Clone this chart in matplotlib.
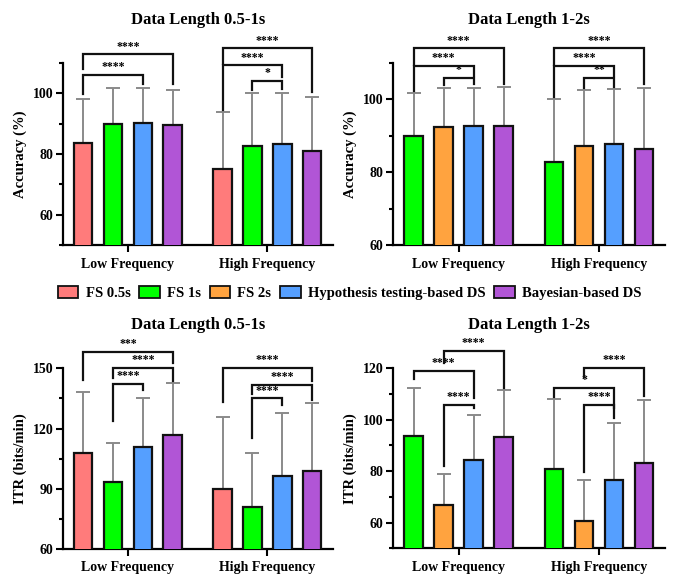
import matplotlib
matplotlib.use("Agg")
import matplotlib.pyplot as plt
import numpy as np
from matplotlib.patches import Patch
from matplotlib.ticker import MultipleLocator

plt.rcParams['font.family'] = ['Liberation Serif', 'DejaVu Serif']
plt.rcParams['font.weight'] = 'bold'

groups = ["Low Frequency", "High Frequency"]
series_names = ["FS 0.5s", "FS 1s", "FS 2s", "Hypothesis testing-based DS", "Bayesian-based DS"]
colors = {"FS 0.5s": "#FF7B7B", "FS 1s": "#00FF00", "FS 2s": "#FFA33F",
          "Hypothesis testing-based DS": "#559FFF", "Bayesian-based DS": "#B155D6"}

# Panel A: Accuracy, data length 0.5-1s
accA_series = ["FS 0.5s", "FS 1s", "Hypothesis testing-based DS", "Bayesian-based DS"]
accA_mean = [[83.7, 90.0, 90.3, 89.4], [75.1, 82.5, 83.4, 81.1]]
accA_err = [[98.1, 101.7, 101.7, 101.2], [93.7, 100.1, 100.1, 98.7]]
# Panel B: Accuracy, data length 1-2s
accB_series = ["FS 1s", "FS 2s", "Hypothesis testing-based DS", "Bayesian-based DS"]
accB_mean = [[90.0, 92.4, 92.6, 92.8], [82.8, 87.3, 87.8, 86.5]]
accB_err = [[101.7, 103.2, 103.2, 103.5], [100.2, 102.7, 102.9, 103.2]]
# Panel C: ITR, data length 0.5-1s
itrC_series = ["FS 0.5s", "FS 1s", "Hypothesis testing-based DS", "Bayesian-based DS"]
itrC_mean = [[107.6, 93.3, 110.9, 116.7], [89.7, 80.9, 96.3, 98.8]]
itrC_err = [[138.4, 112.7, 135.4, 142.5], [125.5, 108.0, 127.9, 132.6]]
# Panel D: ITR, data length 1-2s
itrD_series = ["FS 1s", "FS 2s", "Hypothesis testing-based DS", "Bayesian-based DS"]
itrD_mean = [[93.6, 66.7, 84.2, 93.4], [80.8, 60.5, 76.6, 83.0]]
itrD_err = [[112.3, 78.9, 101.9, 111.5], [108.0, 76.6, 98.6, 107.5]]

# significance brackets: (group, bar_i, bar_j, label, top, left_end, right_end)
brA = [(0, 0, 2, "****", 106.1, 99.8, 103.1), (0, 0, 3, "****", 112.8, 108.0, 103.1),
       (1, 0, 3, "****", 114.8, 109.5, 100.5), (1, 0, 2, "****", 109.2, 94.5, 105.5),
       (1, 1, 2, "*", 104.2, 101.0, 101.5)]
brB = [(0, 0, 3, "****", 114.0, 109.5, 104.2), (0, 0, 2, "****", 109.2, 102.2, 106.5),
       (0, 1, 2, "*", 105.8, 104.0, 104.2),
       (1, 0, 3, "****", 114.0, 109.5, 104.2), (1, 0, 2, "****", 109.2, 100.7, 106.5),
       (1, 1, 2, "**", 105.8, 103.2, 103.5)]
brC = [(0, 0, 3, "***", 158.3, 144.2, 152.5), (0, 1, 3, "****", 150.0, 145.0, 143.5),
       (0, 1, 2, "****", 142.2, 123.7, 139.0),
       (1, 0, 3, "****", 150.0, 133.0, 143.5), (1, 1, 3, "****", 141.7, 137.0, 134.0),
       (1, 1, 2, "****", 135.0, 115.5, 131.5)]
brD = [(0, 0, 2, "****", 119.1, 115.8, 108.5), (0, 1, 3, "****", 126.8, 122.2, 112.3),
       (0, 1, 2, "****", 105.9, 82.1, 104.5),
       (1, 0, 2, "*", 112.3, 109.0, 104.5), (1, 1, 3, "****", 120.0, 116.8, 109.3),
       (1, 1, 2, "****", 105.9, 79.6, 100.5)]

BAR_STEP = 0.214
BAR_W = 0.132

fig = plt.figure(figsize=(6.79, 5.81), dpi=100)

def panel(rect, title, ylabel, series, means, errs, brackets, ylim, major, minor):
    ax = fig.add_axes(rect)
    for s_i, s in enumerate(series):
        xs = np.arange(len(groups)) + (s_i - 1.5) * BAR_STEP
        vals = [means[g][s_i] for g in range(len(groups))]
        tops = [errs[g][s_i] for g in range(len(groups))]
        ax.bar(xs, vals, width=BAR_W, color=colors[s], edgecolor="#111111",
               linewidth=1.6, zorder=3)
        yerr_up = np.array(tops) - np.array(vals)
        ax.errorbar(xs, vals, yerr=[np.zeros_like(yerr_up), yerr_up], fmt="none",
                    ecolor="#8a8a8a", elinewidth=1.4, capsize=5, capthick=1.4, zorder=2)
    for (g, i, j, lab, top, yl, yr) in brackets:
        x1 = g + (i - 1.5) * BAR_STEP
        x2 = g + (j - 1.5) * BAR_STEP
        ax.plot([x1, x1, x2, x2], [yl, top, top, yr], color="#111111", lw=1.6,
                clip_on=False, zorder=4, solid_joinstyle="miter")
        ax.text((x1 + x2) / 2, top + (ylim[1] - ylim[0]) * 0.01, lab, ha="center",
                va="bottom", fontsize=8.5, fontweight="bold", clip_on=False)
    ax.set_xlim(-0.465, 1.47)
    ax.set_ylim(*ylim)
    ax.yaxis.set_major_locator(MultipleLocator(major))
    ax.yaxis.set_minor_locator(MultipleLocator(minor))
    ax.set_xticks(range(len(groups)))
    ax.set_xticklabels(groups, fontsize=10, fontweight="bold")
    for lab in ax.get_yticklabels():
        lab.set_fontweight("bold")
    ax.tick_params(axis="y", labelsize=10, width=1.5, length=5, pad=2)
    ax.tick_params(axis="y", which="minor", width=1.5, length=3)
    ax.tick_params(axis="x", width=1.5, length=5, pad=4)
    for sp in ["top", "right"]:
        ax.spines[sp].set_visible(False)
    for sp in ["left", "bottom"]:
        ax.spines[sp].set_linewidth(1.6)
    ax.set_ylabel(ylabel, fontsize=10.5, fontweight="bold", labelpad=4)
    ax.set_title(title, fontsize=12, fontweight="bold", pad=28)
    return ax

panel([0.0928, 0.5783, 0.3976, 0.3133], "Data Length 0.5-1s", "Accuracy (%)",
      accA_series, accA_mean, accA_err, brA, (50, 110), 20, 10)
panel([0.5793, 0.5783, 0.4001, 0.3133], "Data Length 1-2s", "Accuracy (%)",
      accB_series, accB_mean, accB_err, brB, (60, 110), 20, 10)
panel([0.0928, 0.0551, 0.3976, 0.3110], "Data Length 0.5-1s", "ITR (bits/min)",
      itrC_series, itrC_mean, itrC_err, brC, (60, 150), 30, 15)
panel([0.5793, 0.0563, 0.4001, 0.3098], "Data Length 1-2s", "ITR (bits/min)",
      itrD_series, itrD_mean, itrD_err, brD, (50, 120), 20, 10)

handles = [Patch(facecolor=colors[s], edgecolor="#111111", linewidth=1.3, label=s)
           for s in series_names]
fig.legend(handles=handles, loc="center", bbox_to_anchor=(0.515, 1 - 293 / 581),
           ncol=5, frameon=False, handlelength=1.4, handleheight=0.9,
           handletextpad=0.5, columnspacing=0.6, prop={"weight": "bold", "size": 10.5})

fig.savefig("out.png", dpi=100)
